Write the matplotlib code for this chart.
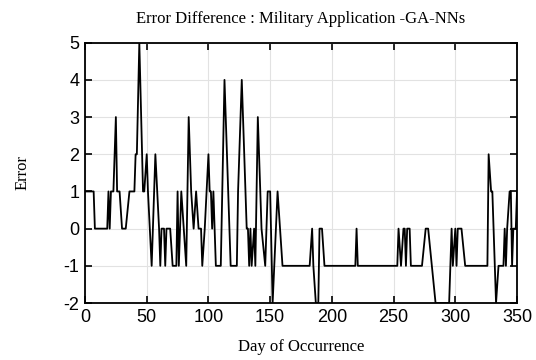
import matplotlib
matplotlib.use("Agg")
import matplotlib.pyplot as plt

plt.rcParams["axes.unicode_minus"] = False

days = [0, 7, 8, 18, 19, 20, 21, 23, 25, 26, 28, 30, 33, 36, 40, 41, 42, 44, 47, 48,
        50, 51, 54, 57, 60, 61, 62, 64, 65, 66, 69, 71, 74, 75, 76, 78, 80, 82, 84, 86,
        88, 90, 92, 94, 95, 97, 100, 101, 102, 103, 104, 106, 110, 113, 116, 118, 123, 124, 127, 131,
        132, 133, 134, 135, 137, 138, 140, 143, 146, 148, 150, 152, 156, 158, 160, 182, 184, 185, 187, 189,
        190, 192, 194, 219, 220, 221, 253, 254, 256, 258, 259, 260, 261, 263, 264, 273, 276, 278, 281, 284,
        295, 297, 298, 300, 301, 302, 305, 308, 326, 327, 329, 330, 333, 335, 339, 340, 341, 342, 344, 345,
        346, 347, 349, 350]
errors = [1, 1, 0, 0, 1, 0, 1, 1, 3, 1, 1, 0, 0, 1, 1, 2, 2, 5, 1, 1,
          2, 1, -1, 2, 0, -1, 0, 0, -1, 0, 0, -1, -1, 1, -1, 1, 0, -1, 3, 1,
          0, 1, 0, 0, -1, 0, 2, 1, 1, 0, 1, -1, -1, 4, 1, -1, -1, 1, 4, 0,
          0, -1, 0, -1, 0, -1, 3, 0, -1, 1, 1, -2, 1, 0, -1, -1, 0, -1, -2, -2,
          0, 0, -1, -1, 0, -1, -1, 0, -1, 0, 0, -1, 0, 0, -1, -1, 0, 0, -1, -2,
          -2, 0, -1, 0, -1, 0, 0, -1, -1, 2, 1, 1, -2, -1, -1, 0, -1, 0, 1, 1,
          -1, 0, 0, 1]

x_ticks = [0, 50, 100, 150, 200, 250, 300, 350]
y_ticks = [-2, -1, 0, 1, 2, 3, 4, 5]

fig = plt.figure(figsize=(5.36, 3.6), dpi=100)
ax = fig.add_axes([0.1586, 0.1583, 0.806, 0.7231])
ax.plot(days, errors, color="black", linewidth=1.3)
ax.set_xlim(0, 350)
ax.set_ylim(-2, 5)
ax.set_xticks(x_ticks)
ax.set_yticks(y_ticks)
ax.grid(True, color="#e2e2e2", linewidth=0.8)
ax.set_axisbelow(True)
ax.tick_params(direction="in", top=True, right=True, length=5, width=1.2,
               labelsize=13, pad=4)
for lab in ax.get_xticklabels() + ax.get_yticklabels():
    lab.set_family("Liberation Sans")
for s in ax.spines.values():
    s.set_linewidth(1.3)
ax.set_title("Error Difference : Military Application -GA-NNs",
             family="Liberation Serif", fontsize=12, pad=14)
ax.set_xlabel("Day of Occurrence", family="Liberation Serif", fontsize=12, labelpad=10)
ax.set_ylabel("Error", family="Liberation Serif", fontsize=12, labelpad=24)
fig.savefig("out.png", dpi=100, facecolor="white")
